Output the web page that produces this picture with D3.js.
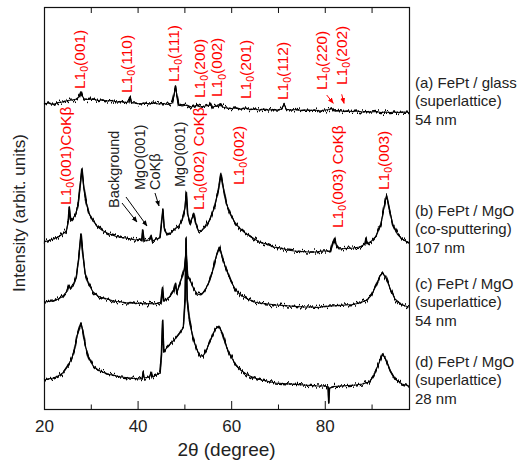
<!DOCTYPE html>
<html>
<head>
<meta charset="utf-8">
<script src="https://cdn.jsdelivr.net/npm/d3@7"></script>
<style>
  body { margin: 0; background: #fff; }
  text { font-family: "Liberation Sans", Arial, sans-serif; }
</style>
</head>
<body>
<svg id="xrd"></svg>
<script>
// XRD patterns, [2theta, intensity] (arbitrary units, traces already offset)
const traceA = [[20,305],[21,306],[22,304.5],[23,306.5],[24,307],[25,308.5],[26,309],[27,310],[27.6,313],[27.9,317.5],[28.2,313],[28.6,310],[29.5,309.5],[30.5,310],[31.5,308.5],[32.5,309],[33.5,308],[34.5,308.5],[35.5,307],[36.5,307.5],[37.5,306.5],[38.1,307],[38.4,312],[38.7,306],[39.5,306],[40.5,305],[41.5,306],[42.5,305],[43.5,306],[44.5,305],[45.5,305.5],[46.5,304.5],[47.4,306],[47.8,314],[48.1,323],[48.4,314],[48.8,304],[49.5,303],[50.5,304],[51.5,302],[52.5,303.5],[53.5,302],[54.5,303],[55.3,304],[55.6,306],[56,302],[57,303],[57.7,305.5],[58.2,302],[59,301],[60,300.5],[61,301],[62,300],[63,301],[64,299.5],[65,300],[66,299],[67,300],[68,299],[69,299.5],[70,299],[70.8,300],[71.3,304.5],[71.8,299.5],[73,299],[74,299.5],[75,298.5],[76,299],[77,298.5],[78,299],[79,298],[80,299],[81,299.5],[81.4,301],[82,298],[83,298.5],[84,297.5],[85,298],[86,297.5],[87,298],[88,297],[89,297.5],[90,297],[91,297.5],[92,296.5],[93,297],[94,296.5],[95,297],[96,296.5],[97,297],[98,296.5]];

const traceB = [[20,167],[21,168.5],[22,170],[23,172],[24,175],[24.8,178],[25.2,188],[25.4,202],[25.7,188],[26.1,190],[26.8,195],[27.3,205],[27.7,222],[28.1,240],[28.5,222],[29,207],[29.6,196],[30.5,188],[31.5,182],[32.5,178.5],[33.5,176],[34.5,174],[35.5,172.5],[36.5,171.5],[37.5,171],[38.5,170],[39.5,169],[40.5,170],[40.9,168],[41.1,179],[41.4,168],[42.5,169],[42.9,174],[43.2,168],[44,170],[44.8,171],[45.1,185],[45.4,199],[45.7,180],[46.3,174],[47,175],[47.5,178],[48,180],[48.8,183],[49.5,189],[50.1,200],[50.4,217],[50.7,195],[51.2,186],[51.7,192],[52,196],[52.4,186],[53,178],[53.8,179],[54.5,182],[55.5,190],[56.5,203],[57.3,220],[57.8,236],[58.3,222],[59,205],[60,193],[61,185],[62,180],[63,176],[64.5,171.5],[66,167],[67.5,165],[69,162],[70.5,161],[72,159],[73.5,158],[75,157.5],[76.5,157],[78,157],[79.5,158],[80.8,158],[81.2,157],[81.7,166],[82.1,171],[82.5,163],[83,160],[84.5,160.5],[86,161],[87.5,162],[88.6,165],[88.8,171],[89,165],[90,168],[91,173],[92,185],[92.6,200],[93.2,214],[93.8,200],[94.5,185],[95.5,175],[96.5,170],[98,166]];

const traceC = [[20,107],[21,107.5],[22,108],[23,110],[24,112.5],[24.9,118],[25.3,124],[25.7,120],[26.3,124],[26.9,132],[27.4,150],[27.9,175],[28.3,155],[28.8,135],[29.5,125],[30.5,117],[31.5,113],[32.5,111],[33.5,110],[34.5,108.5],[35.5,107.5],[36.5,107],[37.5,106],[38.5,106.5],[39.5,105.5],[40.5,106],[41.5,105],[42.5,105.5],[43.5,105],[44.5,106],[45,107],[45.3,122],[45.6,108],[46.3,110],[47,113],[47.7,118],[48.1,126],[48.4,117],[49,125],[49.6,134],[50,140],[50.35,157],[50.7,133],[51.2,129],[52,120],[52.8,115],[53.5,114],[54.3,118],[55.2,126],[56.1,139],[56.8,153],[57.5,162],[58.2,150],[59,139],[60,127],[61,119],[62,114],[63.5,110],[65,107],[66.5,105.5],[68,105],[69.5,104],[71,103.5],[72.5,103],[74,102.5],[75.5,102],[77,102],[78.5,101.5],[80,102.5],[81.5,103],[83,103.5],[84.5,104],[86,104.5],[87.5,106],[89,109],[90,114],[91,124],[91.8,133],[92.4,136],[93,132],[94,120],[95,110],[96.5,104],[98,102]];

const traceD = [[20,29],[21,30],[22,31],[23,33],[24,36],[24.9,42],[25.4,46],[25.9,50],[26.5,59],[27.1,74],[27.5,80],[27.9,86],[28.3,78],[28.8,64],[29.5,52],[30.5,43],[31.5,39],[32.5,37],[33.5,35],[34.5,34],[35.5,33],[36.5,32],[37.5,31.5],[38.5,31],[39.5,30.5],[40.5,30],[41,31],[41.2,38],[41.4,31],[42.5,32],[42.9,37],[43.1,32],[44,34],[44.8,36],[45.1,54],[45.35,89],[45.6,57],[46.2,61],[47,65],[48,70],[49,76],[49.8,82],[50.15,110],[50.35,170],[50.6,110],[51.1,88],[51.8,72],[52.6,60],[53.4,53],[54,53],[54.8,60],[55.7,70],[56.6,80],[57.4,83],[58.1,76],[59,62],[60,52],[61,44],[62,39],[63.5,34],[65,31],[66.5,29],[68,27.5],[69.5,26],[71,25.5],[72.5,25],[74,24.5],[75.5,24],[77,23.5],[78.5,23],[80,23],[80.7,22],[80.85,6],[81,21],[82,22.5],[83.5,23],[85,23.5],[86.5,24],[88,25],[89.5,27],[90.5,34],[91.5,45],[92.3,55],[93,50],[94,38],[95,30],[96.5,25],[98,23]];

// peak labels: [text, 2theta, intensity at text start, colour]
const peakLabels = [
  ["L1_0(001)", 27.54, 320, "red"],
  ["L1_0(110)", 37.52, 316, "red"],
  ["L1_0(111)", 47.63, 327, "red"],
  ["L1_0(200)", 53.12, 311, "red"],
  ["L1_0(002)", 56.9, 312, "red"],
  ["L1_0(201)", 62.95, 310, "red"],
  ["L1_0(112)", 70.93, 309, "red"],
  ["L1_0(220)", 79.2, 319, "red"],
  ["L1_0(202)", 83.47, 324, "red"],
  ["L1_0(001)CoKβ", 24.49, 204, "red"],
  ["Background", 34.96, 201, "black"],
  ["MgO(001)", 40.52, 219, "black"],
  ["CoKβ", 43.72, 219, "black"],
  ["MgO(001)", 49.07, 222, "black"],
  ["L1_0(002) CoKβ", 52.91, 199, "red"],
  ["L1_0(002)", 61.46, 224, "red"],
  ["L1_0(003) CoKβ", 82.62, 181, "red"],
  ["L1_0(003)", 92.45, 219, "red"]
];

// arrows: [2theta1, I1, 2theta2, I2, colour]
const arrows = [
  [36.67, 206, 39.87, 187, "black"],
  [37.52, 212, 42.01, 183, "black"],
  [43.72, 216, 44.58, 203, "black"],
  [80.41, 314, 81.82, 305.7, "red"],
  [83.62, 314.7, 84.12, 305.7, "red"]
];

const sampleNames = [
  ["(a) FePt / glass", "(superlattice)", "54 nm"],
  ["(b) FePt / MgO", "(co-sputtering)", "107 nm"],
  ["(c) FePt / MgO", "(superlattice)", "54 nm"],
  ["(d) FePt / MgO", "(superlattice)", "28 nm"]
];
const sampleTop = [88, 216, 289, 367];

const majorTicks = [20, 40, 60, 80];
const minorTicks = [30, 50, 70, 90];

const width = 520;
const height = 464;
const plotLeft = 44, plotRight = 409, plotTop = 7, plotBottom = 409;

const svg = d3.select("#xrd").attr("width", width).attr("height", height);

const x = d3.scaleLinear().domain([20, 98]).range([plotLeft, plotRight]);
const y = d3.scaleLinear().domain([0, 402]).range([plotBottom, plotTop]);

const defs = svg.append("defs");

// arrow heads
["black", "red"].forEach(c => {
  defs.append("marker")
    .attr("id", "head-" + c)
    .attr("viewBox", "0 0 10 10")
    .attr("refX", 9).attr("refY", 5)
    .attr("markerWidth", 6).attr("markerHeight", 6)
    .attr("markerUnits", "userSpaceOnUse")
    .attr("orient", "auto")
    .append("path")
    .attr("d", "M0,1 L10,5 L0,9 Z")
    .attr("fill", c === "red" ? "#ff0000" : "#000");
});

// detector-noise look: jitter the drawn line up and down, column by column
const grain = defs.append("filter")
  .attr("id", "grain")
  .attr("filterUnits", "userSpaceOnUse")
  .attr("x", 0).attr("y", 0).attr("width", width).attr("height", height);
grain.append("feTurbulence")
  .attr("type", "fractalNoise")
  .attr("baseFrequency", "0.9 0.015")
  .attr("numOctaves", 2)
  .attr("seed", 7)
  .attr("result", "turb");
grain.append("feColorMatrix")
  .attr("in", "turb")
  .attr("type", "matrix")
  .attr("values", "0 0 0 0 0.5  1 0 0 0 0  0 0 0 0 0  0 0 0 0 1")
  .attr("result", "shift");
grain.append("feDisplacementMap")
  .attr("in", "SourceGraphic")
  .attr("in2", "shift")
  .attr("scale", 9)
  .attr("xChannelSelector", "R")
  .attr("yChannelSelector", "G");

// axes
const xAxisMajor = svg.append("g")
  .attr("transform", `translate(0, ${plotBottom})`)
  .call(d3.axisBottom(x).tickValues(majorTicks).tickSize(-8).tickPadding(11));
xAxisMajor.select(".domain").remove();
xAxisMajor.selectAll("text")
  .attr("font-size", 17).attr("fill", "#222")
  .attr("font-family", "Liberation Sans, Arial, sans-serif");

const xAxisMinor = svg.append("g")
  .attr("transform", `translate(0, ${plotBottom})`)
  .call(d3.axisBottom(x).tickValues(minorTicks).tickSize(-4.5).tickFormat(""));
xAxisMinor.select(".domain").remove();

const xAxisTop = svg.append("g")
  .attr("transform", `translate(0, ${plotTop})`)
  .call(d3.axisTop(x).tickValues(majorTicks.concat(minorTicks).filter(v => v > 20)).tickSize(-6).tickFormat(""));
xAxisTop.select(".domain").remove();

svg.selectAll(".tick line").attr("stroke", "#111");

svg.append("rect")
  .attr("x", plotLeft + 0.5).attr("y", plotTop + 0.5)
  .attr("width", plotRight - plotLeft).attr("height", plotBottom - plotTop)
  .attr("fill", "none").attr("stroke", "#111").attr("stroke-width", 1.2);

svg.append("text")
  .attr("x", (plotLeft + plotRight) / 2).attr("y", 456)
  .attr("text-anchor", "middle").attr("font-size", 19).attr("fill", "#222")
  .text("2θ (degree)");

svg.append("text")
  .attr("transform", "translate(25, 213) rotate(-90)")
  .attr("text-anchor", "middle").attr("font-size", 17).attr("fill", "#222")
  .text("Intensity (arbit. units)");

// traces
const line = d3.line().x(d => x(d[0])).y(d => y(d[1]));
const traces = svg.append("g");
// clean copy underneath keeps the peaks continuous
traces.selectAll("path.clean")
  .data([traceA, traceB, traceC, traceD])
  .join("path")
  .attr("class", "clean")
  .attr("d", line)
  .attr("fill", "none")
  .attr("stroke", "#000")
  .attr("stroke-width", 1.1)
  .attr("stroke-linejoin", "round");
traces.append("g")
  .attr("filter", "url(#grain)")
  .selectAll("path")
  .data([traceA, traceB, traceC, traceD])
  .join("path")
  .attr("d", line)
  .attr("fill", "none")
  .attr("stroke", "#000")
  .attr("stroke-width", 1.6)
  .attr("stroke-linejoin", "round");

// peak labels (rotated), "_0" becomes a subscript 0
peakLabels.forEach(([txt, tth, inten, col]) => {
  const t = svg.append("text")
    .attr("transform", `translate(${x(tth)}, ${y(inten)}) rotate(-90)`)
    .attr("dy", "0.36em")
    .attr("font-size", col === "red" ? 15.5 : 14.5)
    .attr("fill", col === "red" ? "#ff0000" : "#222");
  const parts = txt.split("_0");
  if (parts.length === 1) {
    t.text(txt);
  } else {
    t.append("tspan").text(parts[0]);
    t.append("tspan").attr("font-size", 10.5).attr("dy", "3.5").text("0");
    t.append("tspan").attr("dy", "-3.5").text(parts[1]);
  }
});

svg.append("g")
  .selectAll("line")
  .data(arrows)
  .join("line")
  .attr("x1", d => x(d[0])).attr("y1", d => y(d[1]))
  .attr("x2", d => x(d[2])).attr("y2", d => y(d[3]))
  .attr("stroke", d => d[4] === "red" ? "#ff0000" : "#000")
  .attr("stroke-width", 1)
  .attr("marker-end", d => `url(#head-${d[4]})`);

// sample names at the right
sampleNames.forEach((lines, i) => {
  const t = svg.append("text")
    .attr("x", 415).attr("y", sampleTop[i])
    .attr("font-size", 15).attr("fill", "#222");
  lines.forEach((s, j) => {
    t.append("tspan").attr("x", 415).attr("dy", j === 0 ? 0 : 18.4).text(s);
  });
});
</script>
</body>
</html>
